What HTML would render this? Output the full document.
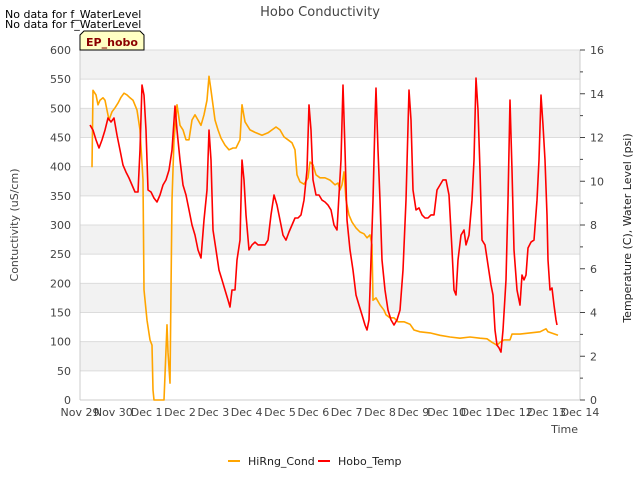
<!DOCTYPE html>
<html><head><meta charset="utf-8"><style>
body{margin:0;background:#fff;}
svg{font-family:"DejaVu Sans","Liberation Sans",sans-serif;}
</style></head><body>
<svg id="chart" width="640" height="480" viewBox="0 0 640 480">
<g id="bands"></g>
<g id="grid"></g>
<g id="yl"></g>
<g id="yr"></g>
<g id="xa"></g>
<g id="series"></g>
<text x="320" y="16" text-anchor="middle" font-size="13" fill="#444">Hobo Conductivity</text>
<text x="5" y="18" font-size="11" fill="#000">No data for f_WaterLevel</text>
<text x="5" y="28" font-size="11" fill="#000">No data for f_WaterLevel</text>
<g>
<polygon points="84,31 140,31 144,35 144,50 80,50 80,35" fill="#ffffc4" stroke="#000" stroke-width="1"/>
<text x="112" y="46" text-anchor="middle" font-size="11" font-weight="bold" fill="#8b0000">EP_hobo</text>
</g>
<text transform="translate(18,225) rotate(-90)" text-anchor="middle" font-size="11" fill="#444">Contuctivity (uS/cm)</text>
<text transform="translate(631,228) rotate(-90)" text-anchor="middle" font-size="11" fill="#222">Temperature (C), Water Level (psi)</text>
<text x="578" y="433" text-anchor="end" font-size="11" fill="#444">Time</text>
<g>
<g><line x1="228" y1="461" x2="240" y2="461" stroke="orange" stroke-width="2"/><text x="248" y="465" font-size="11" fill="#222">HiRng_Cond</text></g>
<g><line x1="318" y1="461" x2="330" y2="461" stroke="red" stroke-width="2"/><text x="338" y="465" font-size="11" fill="#222">Hobo_Temp</text></g>
</g>
</svg>
<script>
const xTickLabels=["Nov 29","Nov 30","Dec 1","Dec 2","Dec 3","Dec 4","Dec 5","Dec 6","Dec 7","Dec 8","Dec 9","Dec 10","Dec 11","Dec 12","Dec 13","Dec 14"];
const leftTicks=[0,50,100,150,200,250,300,350,400,450,500,550,600];
const rightTicks=[0,2,4,6,8,10,12,14,16];
const condDays=[0.36,0.39,0.48,0.54,0.60,0.69,0.75,0.81,0.87,0.96,1.05,1.14,1.23,1.32,1.41,1.50,1.59,1.71,1.80,1.89,1.92,2.01,2.10,2.16,2.19,2.22,2.52,2.61,2.64,2.70,2.73,2.76,2.82,2.91,3.00,3.09,3.18,3.27,3.36,3.45,3.54,3.63,3.72,3.81,3.87,3.93,4.05,4.14,4.23,4.35,4.47,4.59,4.68,4.80,4.86,4.95,5.10,5.28,5.46,5.64,5.76,5.88,6.00,6.12,6.24,6.36,6.45,6.51,6.60,6.72,6.84,6.90,6.99,7.08,7.20,7.35,7.50,7.65,7.74,7.80,7.86,7.92,7.98,8.07,8.16,8.28,8.40,8.52,8.61,8.70,8.76,8.79,8.88,9.00,9.12,9.18,9.30,9.42,9.54,9.72,9.90,10.02,10.20,10.50,10.80,11.10,11.40,11.70,12.00,12.21,12.36,12.51,12.60,12.72,12.90,12.96,13.20,13.50,13.80,13.98,14.04,14.34];
const condValues=[399,531,523,506,514,518,514,497,480,494,501,509,519,526,523,518,514,497,463,377,189,137,103,94,17,0,0,129,82,29,189,343,446,506,471,463,446,446,480,489,480,471,489,514,555,531,480,463,449,437,429,432,432,446,506,477,463,458,454,458,463,468,463,451,446,441,429,386,374,370,381,408,403,386,381,381,377,369,372,360,369,391,343,317,305,295,288,285,278,283,266,171,175,163,154,146,141,141,134,134,130,120,117,115,111,108,106,108,106,105,99,94,99,103,103,113,113,115,117,122,117,111];
const tempDays=[0.30,0.39,0.48,0.57,0.66,0.75,0.84,0.93,1.02,1.11,1.20,1.29,1.38,1.47,1.56,1.65,1.74,1.80,1.86,1.92,1.98,2.04,2.13,2.22,2.31,2.40,2.49,2.58,2.67,2.76,2.85,2.91,3.00,3.09,3.18,3.27,3.36,3.45,3.54,3.63,3.72,3.81,3.87,3.93,3.99,4.08,4.17,4.26,4.35,4.44,4.50,4.56,4.65,4.71,4.80,4.86,4.92,4.98,5.07,5.16,5.25,5.34,5.43,5.55,5.64,5.73,5.82,5.91,6.00,6.09,6.18,6.27,6.36,6.45,6.54,6.63,6.72,6.81,6.87,6.93,6.99,7.08,7.17,7.26,7.35,7.44,7.53,7.62,7.71,7.77,7.83,7.89,7.95,8.01,8.10,8.19,8.28,8.37,8.46,8.55,8.61,8.67,8.73,8.79,8.85,8.88,8.94,9.00,9.06,9.15,9.24,9.33,9.42,9.51,9.60,9.69,9.78,9.87,9.93,9.99,10.08,10.17,10.26,10.35,10.44,10.53,10.62,10.71,10.80,10.89,10.98,11.07,11.16,11.22,11.28,11.34,11.43,11.52,11.58,11.67,11.76,11.82,11.88,11.94,12.00,12.06,12.15,12.24,12.33,12.39,12.45,12.51,12.57,12.63,12.69,12.78,12.84,12.90,12.96,13.02,13.11,13.20,13.26,13.32,13.38,13.44,13.53,13.62,13.71,13.77,13.83,13.89,13.95,14.01,14.04,14.10,14.16,14.22,14.28,14.31];
const tempValues=[12.57,12.34,11.89,11.52,11.89,12.34,12.89,12.71,12.89,12.11,11.43,10.74,10.42,10.15,9.83,9.51,9.51,11.43,14.40,13.94,12.34,9.60,9.51,9.23,9.05,9.37,9.83,10.06,10.51,11.43,13.44,12.34,10.97,9.83,9.37,8.69,8.00,7.54,6.86,6.49,8.23,9.60,12.34,10.97,7.77,6.86,5.94,5.49,5.03,4.57,4.25,5.03,5.03,6.40,7.31,10.97,10.06,8.46,6.86,7.09,7.22,7.09,7.09,7.09,7.31,8.46,9.37,8.91,8.23,7.54,7.31,7.68,8.00,8.32,8.32,8.46,9.14,10.51,13.49,12.34,10.06,9.37,9.37,9.14,9.05,8.91,8.69,8.00,7.77,9.37,10.97,14.40,11.43,8.23,6.86,5.94,4.80,4.34,3.89,3.43,3.20,3.66,6.40,9.14,12.80,14.26,11.43,9.14,6.40,5.03,4.11,3.66,3.43,3.66,4.11,5.94,9.14,14.17,12.80,9.60,8.69,8.78,8.46,8.32,8.32,8.46,8.46,9.60,9.83,10.06,10.06,9.37,6.86,5.03,4.80,6.40,7.54,7.77,7.09,7.54,9.14,10.97,14.72,13.26,10.51,7.31,7.09,6.17,5.26,4.80,3.20,2.51,2.38,2.19,3.20,5.49,9.14,13.71,10.51,6.86,5.03,4.34,5.71,5.49,5.71,6.95,7.22,7.31,9.14,10.97,13.94,12.57,10.97,8.46,6.40,5.03,5.12,4.34,3.66,3.43];

const NS="http://www.w3.org/2000/svg";
const X0=80,X1=580,Y0=400,Y1=50;
const xs=d=>X0+(X1-X0)*d/15;
const yl=v=>Y0-(Y0-Y1)*v/600;
const yr=v=>Y0-(Y0-Y1)*v/16;
function mk(tag,attrs,parent){const e=document.createElementNS(NS,tag);for(const k in attrs)e.setAttribute(k,attrs[k]);parent.appendChild(e);return e;}
const bands=document.getElementById('bands'),grid=document.getElementById('grid');
for(let v=50;v<600;v+=100){
  const r=mk('rect',{x:X0,y:yl(v+50),width:X1-X0,height:yl(v)-yl(v+50),fill:'#f2f2f2'},bands);
  
  
}
const ylg=document.getElementById('yl');
leftTicks.forEach(v=>{
  const l=mk('line',{x1:X0,x2:X1,y1:yl(v),y2:yl(v),stroke:'#dcdcdc','stroke-width':1},grid);
  
  
  const t=mk('text',{x:X0-9,y:yl(v)+4,'text-anchor':'end','font-size':11,fill:'#444'},ylg);
  t.textContent=v;
  
  
});
mk('line',{x1:X0,x2:X0,y1:Y1,y2:Y0,stroke:'#ccc'},ylg);
mk('line',{x1:X0,x2:X1,y1:Y0,y2:Y0,stroke:'#ccc'},ylg);
const yrg=document.getElementById('yr');
mk('line',{x1:X1,x2:X1,y1:Y1,y2:Y0,stroke:'#ccc'},yrg);
for(let v=0;v<=16;v++){
  mk('line',{x1:X1,x2:X1+(v%2?3:5),y1:yr(v),y2:yr(v),stroke:'#444'},yrg);
}
rightTicks.forEach(v=>{
  const t=mk('text',{x:X1+10,y:yr(v)+4,'font-size':11,fill:'#444'},yrg);
  t.textContent=v;
  
  
});
const xa=document.getElementById('xa');
xTickLabels.forEach((s,i)=>{
  const t=mk('text',{x:xs(i),y:416,'text-anchor':'middle','font-size':11,fill:'#444'},xa);
  t.textContent=s;
  
  
});
const sg=document.getElementById('series');
const pc=mk('polyline',{points:condDays.map((d,i)=>xs(d).toFixed(1)+','+yl(condValues[i]).toFixed(1)).join(' '),fill:'none',stroke:'orange','stroke-width':1.6,'stroke-linejoin':'round'},sg);


const pt=mk('polyline',{points:tempDays.map((d,i)=>xs(d).toFixed(1)+','+yr(tempValues[i]).toFixed(1)).join(' '),fill:'none',stroke:'red','stroke-width':1.6,'stroke-linejoin':'round'},sg);


</script>
</body></html>
